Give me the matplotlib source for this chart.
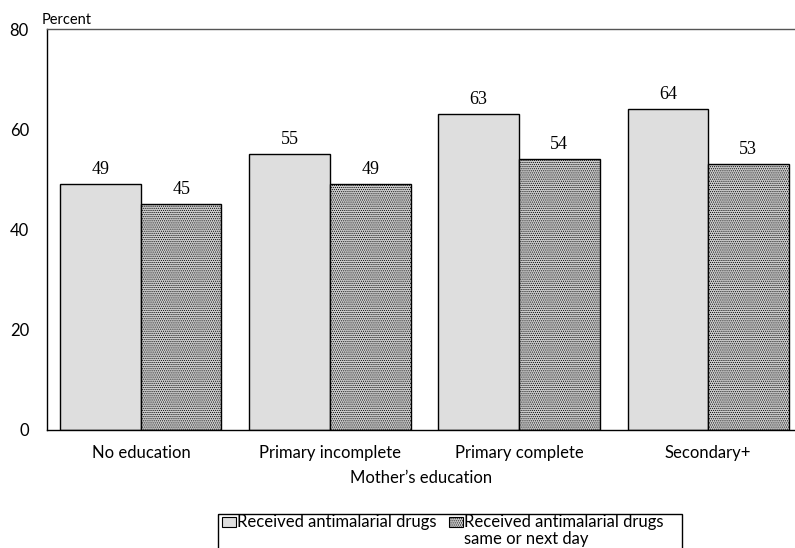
import matplotlib
matplotlib.use("Agg")
import matplotlib.pyplot as plt
from matplotlib.patches import Rectangle
import numpy as np

plt.rcParams['font.family'] = ['Lato', 'DejaVu Sans']
plt.rcParams['hatch.color'] = '#7a7a7a'
plt.rcParams['hatch.linewidth'] = 0.5

categories = ["No education", "Primary incomplete", "Primary complete", "Secondary+"]
received = [49, 55, 63, 64]
same_day = [45, 49, 54, 53]
series_names = ["Received antimalarial drugs", "Received antimalarial drugs\nsame or next day"]

fig = plt.figure(figsize=(7.95, 5.48), dpi=100)
ax = fig.add_axes([47/795, 118/548, 1 - 47/795, 401/548])

x = np.arange(len(categories))
w = 0.426
b1 = ax.bar(x - w/2, received, w, color='#dedede', edgecolor='black', linewidth=1.0)
b2 = ax.bar(x + w/2, same_day, w, color='#cccccc', edgecolor='black', linewidth=1.0,
            hatch='........')

# value labels above the bars
for bars, vals in ((b1, received), (b2, same_day)):
    for r, v in zip(bars, vals):
        ax.text(r.get_x() + r.get_width()/2, v + 2.1, str(v), ha='center', va='baseline',
                fontsize=13, family='Liberation Serif')

ax.set_ylim(0, 80)
ax.set_xlim(-0.497, 3.46)
ax.set_yticks([0, 20, 40, 60, 80])
ax.set_xticks(x)
ax.set_xticklabels(categories)
ax.tick_params(axis='both', length=0, labelsize=12)
ax.tick_params(axis='y', pad=13)
ax.tick_params(axis='x', pad=11)
ax.spines['right'].set_visible(False)
for s in ('left', 'top', 'bottom'):
    ax.spines[s].set_linewidth(1.0)
ax.spines['top'].set_color('#555555')

ax.set_xlabel("Mother\u2019s education", fontsize=12, labelpad=6)
fig.text(42/795, 1 - 27/548, "Percent", ha='left', va='bottom', fontsize=10.5)

# legend drawn by hand in pixel coordinates (box runs off the bottom edge)
lax = fig.add_axes([0, 0, 1, 1])
lax.set_xlim(0, 795)
lax.set_ylim(548, 0)
lax.axis('off')
lax.add_patch(Rectangle((218, 514), 464, 60, fill=False, edgecolor='black', linewidth=1.0))
lax.add_patch(Rectangle((222, 517), 14, 10, facecolor='#dedede', edgecolor='black', linewidth=0.8))
lax.add_patch(Rectangle((449, 517), 14, 10, facecolor='#cccccc', edgecolor='black', linewidth=0.8,
                        hatch='........'))
lax.text(237, 527, series_names[0], fontsize=12, va='baseline', ha='left')
for i, line in enumerate(series_names[1].split("\n")):
    lax.text(464, 527 + 17 * i, line, fontsize=12, va='baseline', ha='left')

fig.savefig("out.png", dpi=100)
